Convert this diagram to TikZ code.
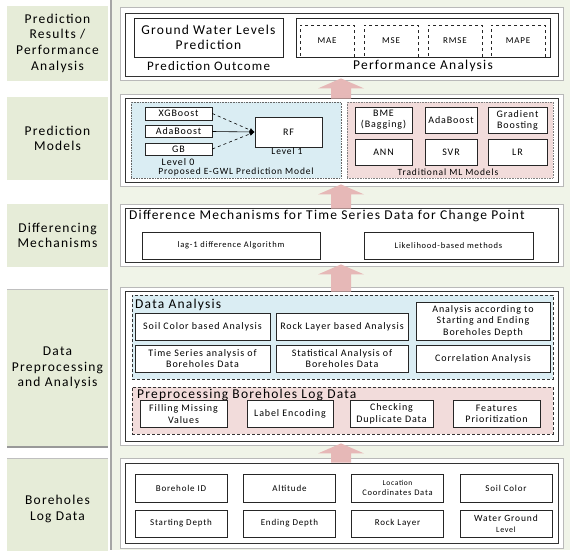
\documentclass[tikz,border=0pt]{standalone}
\usepackage{fontspec}
\setmainfont{Carlito}[LetterSpace=9]
\usepackage{xcolor}
\usetikzlibrary{arrows.meta,calc}
\definecolor{lblgreen}{RGB}{230,236,216}
\definecolor{panelgreen}{RGB}{240,244,232}
\definecolor{regblue}{RGB}{218,237,243}
\definecolor{regpink}{RGB}{242,220,219}
\definecolor{arrowpink}{RGB}{230,184,183}
\newcommand{\fsz}[2]{\fontsize{#1}{#2}\selectfont}

\begin{document}
\begin{tikzpicture}[x=1pt,y=-1pt]
\tikzstyle{every node}=[inner sep=1pt, align=center]
\tikzstyle{lbl}=[fill=lblgreen, minimum width=101pt, font=\fsz{13.5}{15.7}]
\tikzstyle{frameout}=[draw=gray!55, fill=white, line width=0.8pt, minimum width=443pt]
\tikzstyle{framein}=[draw=black!80, line width=0.9pt, minimum width=433pt]
\tikzstyle{box}=[draw=black!85, fill=white, line width=0.7pt]
\tikzstyle{metric}=[draw=black!85, dashed, line width=0.7pt, minimum width=54pt,
                    minimum height=32pt, font=\fsz{9}{10}]
\tikzstyle{regionb}=[fill=regblue, draw=black!60, densely dotted, line width=0.6pt]
\tikzstyle{regionp}=[fill=regpink, draw=black!50, densely dotted, line width=0.6pt]
\tikzstyle{dregion}=[draw=black!80, dashed, line width=0.8pt, minimum width=421pt]
\useasboundingbox (0,0) rectangle (570,550);
\fill[panelgreen] (111,0) rectangle (570,550);
\draw[gray!70, line width=1.2pt] (111,0) -- (111,550);

% stage labels
\node[lbl, minimum height=75pt] (l1) at (57.5,43) {Prediction\\Results /\\Performance\\Analysis};
\node[lbl, minimum height=83pt] (l2) at (57.5,138.5) {Prediction\\Models};
\node[lbl, minimum height=63pt] (l3) at (57.5,235.5) {Differencing\\Mechanisms};
\node[lbl, minimum height=158pt] (l4) at (57.5,368) {Data\\Preprocessing\\and Analysis};
\node[lbl, minimum height=102pt] (l5) at (57.5,509) {Boreholes\\Log Data};
\draw[gray!80, line width=2pt] (7,447) -- (108,447);
\draw[gray!50] (7,289) -- (108,289) (7,458) -- (108,458);

% stage frames
\node[frameout, minimum height=73pt] (res) at (341.5,43.5) {};
\node[framein, minimum height=63pt] (resin) at (341.5,44.5) {};
\node[frameout, minimum height=92pt] (mod) at (341.5,140) {};
\node[framein, minimum height=84pt] (modin) at (341.5,140) {};
\node[frameout, minimum height=62pt] (dif) at (341.5,235) {};
\node[framein, minimum height=54pt] (difin) at (341.5,235) {};
\node[frameout, minimum height=158pt] (dpa) at (341.5,366) {};
\node[framein, minimum height=150pt] (dpain) at (341.5,366) {};
\node[frameout, minimum height=90pt] (bhl) at (341.5,503) {};
\node[framein, minimum height=80pt] (bhlin) at (341.5,503.5) {};

% prediction results
\node[box, minimum width=149pt, minimum height=39pt, font=\fsz{13.5}{15}] (gwl) at (208.5,37.5) {Ground Water Levels\\Prediction};
\node[font=\fsz{13}{15}] (outc) at (208.5,66) {Prediction Outcome};
\node[box, minimum width=254pt, minimum height=39pt] (perf) at (423,37.5) {};
\node[metric] (mae) at (327,41) {MAE};
\node[metric] (mse) at (391,41) {MSE};
\node[metric] (rmse) at (455,41) {RMSE};
\node[metric] (mape) at (518,41) {MAPE};
\node[font=\fsz{13.5}{15}] (perft) at (423,66) {Performance Analysis};

% prediction models
\node[regionb, minimum width=210pt, minimum height=76pt] (ens) at (236,140) {};
\node[regionp, minimum width=206pt, minimum height=76pt] (trad) at (450,140) {};
\node[box, minimum width=67pt, minimum height=13pt, font=\fsz{10}{11}] (xgb) at (178.5,113.5) {XGBoost};
\node[box, minimum width=67pt, minimum height=12pt, font=\fsz{10}{11}] (ada) at (178.5,131.5) {AdaBoost};
\node[box, minimum width=67pt, minimum height=12pt, font=\fsz{10}{11}] (gb) at (178.5,149) {GB};
\node[font=\fsz{10}{11}] (lv0) at (178,162) {Level 0};
\node[box, minimum width=67pt, minimum height=30pt, font=\fsz{10}{11}] (rf) at (288.5,132) {RF};
\node[font=\fsz{9.5}{10}] (lv1) at (287,151) {Level 1};
\node[font=\fsz{9.5}{10}] (enst) at (236,172) {Proposed E-GWL Prediction Model};
\node[box, minimum width=57pt, minimum height=26pt, font=\fsz{10}{11}] (bme) at (383.5,120) {BME\\(Bagging)};
\node[box, minimum width=52pt, minimum height=26pt, font=\fsz{10}{11}] (adab) at (451,120) {AdaBoost};
\node[box, minimum width=59pt, minimum height=26pt, font=\fsz{10}{11}] (gbst) at (517.5,120) {Gradient\\Boosting};
\node[box, minimum width=57pt, minimum height=26pt, font=\fsz{10}{11}] (ann) at (383.5,152) {ANN};
\node[box, minimum width=52pt, minimum height=26pt, font=\fsz{10}{11}] (svr) at (451,152) {SVR};
\node[box, minimum width=59pt, minimum height=26pt, font=\fsz{10}{11}] (lr) at (517.5,152) {LR};
\node[font=\fsz{9.5}{10}] (tradt) at (448,172) {Traditional ML Models};
\foreach \s/\st in {xgb/dashed, ada/solid, gb/dashed}{\draw[\st, line width=0.6pt, -{Latex[length=5pt,width=4pt]}] (\s.east) -- (rf.west);}

% differencing
\node[anchor=west, font=\fsz{13.5}{16}] (dift) at (128,216) {Difference Mechanisms for Time Series Data for Change Point};
\node[box, minimum width=178pt, minimum height=27pt, font=\fsz{8.5}{9}] (lag) at (231,245.5) {lag-1 difference Algorithm};
\node[box, minimum width=169pt, minimum height=27pt, font=\fsz{8.5}{9}] (lik) at (448.5,245.5) {Likelihood-based methods};

% data analysis
\node[regionb, dregion, densely dashed, minimum height=84pt] (da) at (342.5,337) {};
\node[anchor=west, font=\fsz{13.5}{16}] (dat) at (134,305) {Data Analysis};
\node[box, minimum width=135pt, minimum height=27pt, font=\fsz{10}{11.5}] (soil) at (202.5,326.5) {Soil Color based Analysis};
\node[box, minimum width=132pt, minimum height=27pt, font=\fsz{10}{11.5}] (rock) at (342,326.5) {Rock Layer based Analysis};
\node[box, minimum width=134pt, minimum height=38pt, font=\fsz{10}{11.5}] (depth) at (483,321) {Analysis according to\\Starting and Ending\\Boreholes Depth};
\node[box, minimum width=135pt, minimum height=27pt, font=\fsz{10}{11.5}] (tsa) at (202.5,358.5) {Time Series analysis of\\Boreholes Data};
\node[box, minimum width=132pt, minimum height=27pt, font=\fsz{10}{11.5}] (sta) at (342,358.5) {Statistical Analysis of\\Boreholes Data};
\node[box, minimum width=134pt, minimum height=27pt, font=\fsz{10}{11.5}] (cor) at (483,358.5) {Correlation Analysis};

% preprocessing
\node[regionp, dregion, densely dashed, minimum height=47pt] (pre) at (342.5,410.5) {};
\node[anchor=west, font=\fsz{13.5}{16}] (pret) at (136,395) {Preprocessing Boreholes Log Data};
\node[box, minimum width=87pt, minimum height=27pt, font=\fsz{10}{11.5}] (fill) at (183.5,414) {Filling Missing\\Values};
\node[box, minimum width=86pt, minimum height=27pt, font=\fsz{10}{11.5}] (lenc) at (290,414) {Label Encoding};
\node[box, minimum width=83pt, minimum height=27pt, font=\fsz{10}{11.5}] (dup) at (391.5,414) {Checking\\Duplicate Data};
\node[box, minimum width=87pt, minimum height=27pt, font=\fsz{10}{11.5}] (feat) at (496.5,414) {Features\\Prioritization};

% borehole log data
\node[box, minimum width=92pt, minimum height=28pt, font=\fsz{9}{10.5}] (bid) at (181,488) {Borehole ID};
\node[box, minimum width=92pt, minimum height=28pt, font=\fsz{9}{10.5}] (alt) at (289.5,488) {Altitude};
\node[box, minimum width=92pt, minimum height=28pt, font=\fsz{8.5}{10.5}] (loc) at (397.5,488) {{\fsz{7.5}{9}Location}\\Coordinates Data};
\node[box, minimum width=92pt, minimum height=28pt, font=\fsz{9}{10.5}] (scol) at (506,488) {Soil Color};
\node[box, minimum width=92pt, minimum height=27pt, font=\fsz{9}{10.5}] (sdep) at (181,523.5) {Starting Depth};
\node[box, minimum width=92pt, minimum height=27pt, font=\fsz{9}{10.5}] (edep) at (289.5,523.5) {Ending Depth};
\node[box, minimum width=92pt, minimum height=27pt, font=\fsz{9}{10.5}] (rlay) at (397.5,523.5) {Rock Layer};
\node[box, minimum width=92pt, minimum height=27pt, font=\fsz{9.5}{10.5}] (wgl) at (506,523.5) {Water Ground\\{\fsz{8}{9}Level}};

% flow between stages: block arrows from each frame up to the one above
\coordinate (ax) at (341,0);
\foreach \a/\b in {mod/res, dif/mod, dpa/dif, bhl/dpa}{
  \fill[arrowpink] ($(\a.north -| ax)+(-10,5)$) -- ($(\b.south -| ax)+(-10,8)$) -- ++(-13,0)
    -- ($(\b.south -| ax)+(0,-2)$) -- ($(\b.south -| ax)+(23,8)$) -- ++(-13,0)
    -- ($(\a.north -| ax)+(10,5)$) -- cycle;}
\end{tikzpicture}
\end{document}
